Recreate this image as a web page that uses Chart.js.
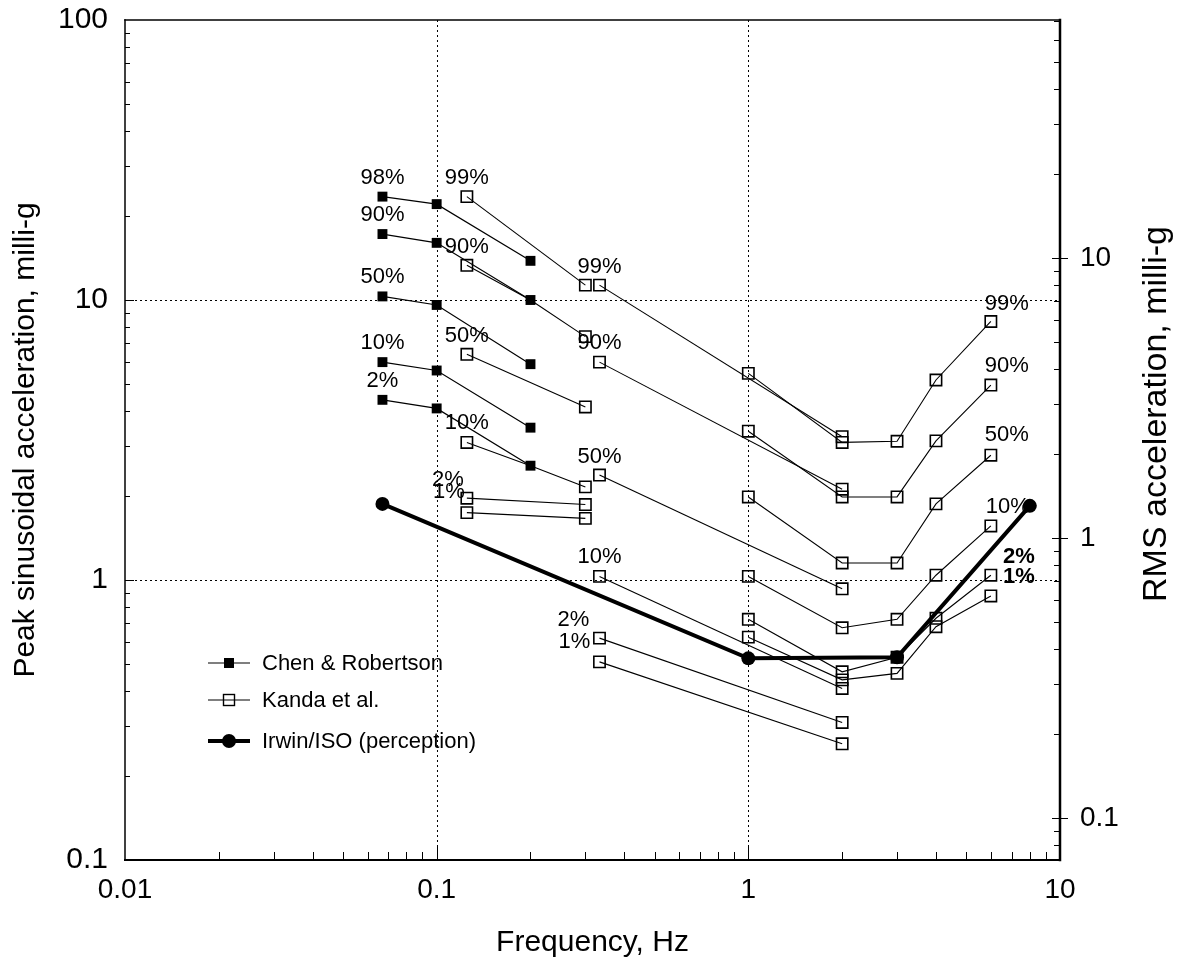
<!DOCTYPE html>
<html>
<head>
<meta charset="utf-8">
<title>Peak / RMS acceleration vs frequency</title>
<script src="https://cdn.jsdelivr.net/npm/chart.js@4.4.1/dist/chart.umd.min.js"></script>
<style>
  html, body { margin: 0; padding: 0; background: #fff; }
  #wrap { width: 1185px; height: 970px; }
</style>
</head>
<body>
<div id="wrap"><canvas id="chart" width="1185" height="970"></canvas></div>
<script>
// 周波数 (Hz)
const chenFreq = [0.067, 0.1, 0.2];
const kandaLowFreq = [0.125, 0.3];
const kandaLowFreq3 = [0.125, 0.2, 0.3];
const kandaMidFreq = [0.333, 2];
const kandaHighFreq = [1, 2, 3, 4, 6];
const irwinFreq = [0.067, 1, 3, 8];

// Chen & Robertson (peak, milli-g)
const chen98 = [23.4, 22.0, 13.8];
const chen90 = [17.2, 16.0, 10.0];
const chen50 = [10.3, 9.6, 5.9];
const chen10 = [6.0, 5.6, 3.5];
const chen2 = [4.4, 4.1, 2.56];
const chenLabels = ["98%", "90%", "50%", "10%", "2%"];

// Kanda et al. 0.125 - 0.3 Hz
const kandaLow99 = [23.4, 11.3];
const kandaLow90 = [13.3, 10.0, 7.4];
const kandaLow50 = [6.4, 4.15];
const kandaLow10 = [3.1, 2.56, 2.15];
const kandaLow2 = [1.96, 1.86];
const kandaLow1 = [1.74, 1.66];

// Kanda et al. 0.333 - 2 Hz
const kandaMid99 = [11.3, 3.25];
const kandaMid90 = [6.0, 2.11];
const kandaMid50 = [2.37, 0.93];
const kandaMid10 = [1.03, 0.41];
const kandaMid2 = [0.62, 0.31];
const kandaMid1 = [0.51, 0.26];

// Kanda et al. 1 - 6 Hz
const kandaHigh99 = [5.47, 3.10, 3.13, 5.18, 8.38];
const kandaHigh90 = [3.40, 1.98, 1.98, 3.14, 4.97];
const kandaHigh50 = [1.98, 1.15, 1.15, 1.87, 2.79];
const kandaHigh10 = [1.03, 0.675, 0.724, 1.04, 1.56];
const kandaHigh2 = [0.724, 0.47, 0.53, 0.73, 1.04];
const kandaHigh1 = [0.625, 0.44, 0.464, 0.681, 0.877];

const kandaLabels = ["99%", "90%", "50%", "10%", "2%", "1%"];

// Irwin/ISO (perception)
const irwinValues = [1.87, 0.525, 0.53, 1.84];

// 目盛り
const xTickLabels = ["0.01", "0.1", "1", "10"];
const yTickLabels = ["0.1", "1", "10", "100"];
const rmsTickLabels = ["0.1", "1", "10"];

const FONT = "'Liberation Sans', Arial, Helvetica, sans-serif";

function toPoints(freqs, values) {
  return freqs.map((f, i) => ({ x: f, y: values[i] }));
}

function isDecade(v) {
  const e = Math.log10(v);
  return Math.abs(e - Math.round(e)) < 1e-6;
}

// 系列の作成
function chenSet(values, label) {
  return {
    label: "Chen & Robertson",
    data: toPoints(chenFreq, values),
    borderColor: "#000",
    borderWidth: 1.2,
    backgroundColor: "#000",
    pointStyle: "rect",
    pointRadius: 7,
    pointBorderWidth: 0,
    pct: label,
    pctAt: "first",
    pctDx: 0,
    pctDy: -19,
  };
}

function kandaSet(freqs, values, label, at, dx, dy, radii) {
  return {
    label: "Kanda et al.",
    data: toPoints(freqs, values),
    borderColor: "#000",
    borderWidth: 1.1,
    backgroundColor: "rgba(0,0,0,0)",
    pointBorderColor: "#000",
    pointBackgroundColor: "rgba(0,0,0,0)",
    pointStyle: "rect",
    pointRadius: radii || 8,
    pointBorderWidth: 1.6,
    pct: label,
    pctAt: at,
    pctDx: dx,
    pctDy: dy,
  };
}

const datasets = [
  {
    label: "Irwin/ISO (perception)",
    data: toPoints(irwinFreq, irwinValues),
    borderColor: "#000",
    borderWidth: 4,
    backgroundColor: "#000",
    pointStyle: "circle",
    pointRadius: 7,
    pointBorderWidth: 0,
  },
  chenSet(chen98, chenLabels[0]),
  chenSet(chen90, chenLabels[1]),
  chenSet(chen50, chenLabels[2]),
  chenSet(chen10, chenLabels[3]),
  chenSet(chen2, chenLabels[4]),

  kandaSet(kandaLowFreq, kandaLow99, kandaLabels[0], "first", 0, -19),
  kandaSet(kandaLowFreq3, kandaLow90, kandaLabels[1], "first", 0, -18, [8, 0, 8]),
  kandaSet(kandaLowFreq, kandaLow50, kandaLabels[2], "first", 0, -18),
  kandaSet(kandaLowFreq3, kandaLow10, kandaLabels[3], "first", 0, -19, [8, 0, 8]),
  kandaSet(kandaLowFreq, kandaLow2, kandaLabels[4], "first", -19, -18),
  kandaSet(kandaLowFreq, kandaLow1, kandaLabels[5], "first", -18, -21),

  kandaSet(kandaMidFreq, kandaMid99, kandaLabels[0], "first", 0, -18),
  kandaSet(kandaMidFreq, kandaMid90, kandaLabels[1], "first", 0, -19),
  kandaSet(kandaMidFreq, kandaMid50, kandaLabels[2], "first", 0, -18),
  kandaSet(kandaMidFreq, kandaMid10, kandaLabels[3], "first", 0, -19),
  kandaSet(kandaMidFreq, kandaMid2, kandaLabels[4], "first", -26, -18),
  kandaSet(kandaMidFreq, kandaMid1, kandaLabels[5], "first", -25, -20),

  kandaSet(kandaHighFreq, kandaHigh99, kandaLabels[0], "last", 16, -18),
  kandaSet(kandaHighFreq, kandaHigh90, kandaLabels[1], "last", 16, -19),
  kandaSet(kandaHighFreq, kandaHigh50, kandaLabels[2], "last", 16, -20),
  kandaSet(kandaHighFreq, kandaHigh10, kandaLabels[3], "last", 17, -19),
  kandaSet(kandaHighFreq, kandaHigh2, kandaLabels[4], "last", 28, -18),
  kandaSet(kandaHighFreq, kandaHigh1, kandaLabels[5], "last", 28, -19),
];

// 枠線・補助目盛り・点線グリッド
const framePlugin = {
  id: "frame",
  beforeDatasetsDraw(chart) {
    const { ctx, chartArea: a, scales } = chart;
    const x = scales.x, y = scales.y, y2 = scales.y2;
    ctx.save();

    // dotted grid at decades
    ctx.strokeStyle = "#000";
    ctx.lineWidth = 1;
    ctx.setLineDash([2, 3]);
    [1, 10].forEach(v => {
      const py = Math.round(y.getPixelForValue(v)) + 0.5;
      ctx.beginPath(); ctx.moveTo(a.left, py); ctx.lineTo(a.right, py); ctx.stroke();
    });
    [0.1, 1].forEach(v => {
      const px = Math.round(x.getPixelForValue(v)) + 0.5;
      ctx.beginPath(); ctx.moveTo(px, a.top); ctx.lineTo(px, a.bottom); ctx.stroke();
    });
    ctx.setLineDash([]);

    // minor / major ticks
    ctx.lineWidth = 1;
    for (let d = -2; d <= 2; d++) {
      for (let m = 1; m <= 9; m++) {
        const v = m * Math.pow(10, d);
        if (v > y.min && v < y.max) {
          const py = Math.round(y.getPixelForValue(v)) + 0.5;
          const len = m === 1 ? 9 : 5;
          ctx.beginPath(); ctx.moveTo(a.left, py); ctx.lineTo(a.left + len, py); ctx.stroke();
        }
        if (v > y2.min && v < y2.max) {
          const py = Math.round(y2.getPixelForValue(v)) + 0.5;
          ctx.beginPath();
          if (m === 1) { ctx.moveTo(a.right - 8, py); ctx.lineTo(a.right + 8, py); }
          else { ctx.moveTo(a.right - 6, py); ctx.lineTo(a.right, py); }
          ctx.stroke();
        }
        if (v > x.min && v < x.max) {
          const px = Math.round(x.getPixelForValue(v)) + 0.5;
          const len = m === 1 ? 14 : 8;
          ctx.beginPath(); ctx.moveTo(px, a.bottom); ctx.lineTo(px, a.bottom - len); ctx.stroke();
        }
      }
    }

    // frame
    ctx.lineCap = "square";
    ctx.lineWidth = 1.5;
    ctx.beginPath(); ctx.moveTo(a.left, a.top); ctx.lineTo(a.right, a.top); ctx.stroke();
    ctx.beginPath(); ctx.moveTo(a.left, a.top); ctx.lineTo(a.left, a.bottom); ctx.stroke();
    ctx.lineWidth = 2;
    ctx.beginPath(); ctx.moveTo(a.left, a.bottom); ctx.lineTo(a.right, a.bottom); ctx.stroke();
    ctx.lineWidth = 2.5;
    ctx.beginPath(); ctx.moveTo(a.right, a.top); ctx.lineTo(a.right, a.bottom); ctx.stroke();
    ctx.restore();
  },
};

// パーセントラベル・凡例・右軸タイトル
const labelPlugin = {
  id: "labels",
  afterDatasetsDraw(chart) {
    const { ctx, chartArea: a } = chart;
    ctx.save();
    ctx.fillStyle = "#000";
    ctx.textAlign = "center";
    ctx.textBaseline = "middle";

    chart.data.datasets.forEach((ds, i) => {
      if (!ds.pct) return;
      const meta = chart.getDatasetMeta(i);
      const pt = ds.pctAt === "last" ? meta.data[meta.data.length - 1] : meta.data[0];
      const bold = ds.pctAt === "last" && ds.pctDx > 20;
      ctx.font = (bold ? "bold " : "") + "22px " + FONT;
      ctx.fillText(ds.pct, pt.x + ds.pctDx, pt.y + ds.pctDy);
    });

    // legend
    const rows = [
      { text: "Chen & Robertson", kind: "filledRect" },
      { text: "Kanda et al.", kind: "openRect" },
      { text: "Irwin/ISO (perception)", kind: "circle" },
    ];
    const lx = a.left + 83, rowY = [a.top + 643, a.top + 680, a.top + 721];
    ctx.textAlign = "left";
    ctx.font = "22px " + FONT;
    rows.forEach((r, i) => {
      const yy = rowY[i];
      ctx.strokeStyle = "#000";
      ctx.lineWidth = r.kind === "circle" ? 4 : 1.2;
      ctx.beginPath(); ctx.moveTo(lx, yy); ctx.lineTo(lx + 42, yy); ctx.stroke();
      const cx = lx + 21;
      if (r.kind === "filledRect") {
        ctx.fillRect(cx - 5, yy - 5, 10, 10);
      } else if (r.kind === "openRect") {
        ctx.lineWidth = 1.4;
        ctx.strokeRect(cx - 5.5, yy - 5.5, 11, 11);
      } else {
        ctx.beginPath(); ctx.arc(cx, yy, 7, 0, Math.PI * 2); ctx.fill();
      }
      ctx.fillText(r.text, lx + 54, yy + 1);
    });

    // right axis title (bottom-to-top)
    ctx.save();
    ctx.translate(a.right + 97, (a.top + a.bottom) / 2 - 26);
    ctx.rotate(-Math.PI / 2);
    ctx.textAlign = "center";
    ctx.font = "34px " + FONT;
    ctx.fillText("RMS acceleration, milli-g", 0, 0);
    ctx.restore();

    ctx.restore();
  },
};

function decadeTicks(labels) {
  return (scale) => {
    scale.ticks = scale.ticks.filter(t => isDecade(t.value) && labels.includes(String(+t.value.toPrecision(3))));
  };
}

// 軸の大きさを固定 (端のラベル分の余白は取らない)
function fixWidth(w) {
  return (s) => { s.width = w; s.paddingTop = 0; s.paddingBottom = 0; };
}

const chart = new Chart(document.getElementById("chart"), {
  type: "line",
  data: { datasets: datasets },
  options: {
    responsive: false,
    animation: false,
    layout: { padding: { top: 20, bottom: 0, left: 0, right: 0 } },
    plugins: {
      legend: { display: false },
      tooltip: { enabled: false },
    },
    elements: { line: { tension: 0 } },
    scales: {
      x: {
        type: "logarithmic",
        min: 0.01,
        max: 10,
        afterBuildTicks: decadeTicks(xTickLabels),
        afterFit: (s) => { s.height = 110; s.paddingLeft = 0; s.paddingRight = 0; },
        grid: { display: false, drawTicks: false },
        border: { display: false },
        ticks: {
          autoSkip: false,
          maxRotation: 0,
          padding: 13,
          color: "#000",
          font: { family: FONT, size: 28 },
          callback: (v) => String(+v.toPrecision(3)),
        },
        title: {
          display: true,
          text: "Frequency, Hz",
          color: "#000",
          font: { family: FONT, size: 30 },
          padding: { top: 0, bottom: 9 },
        },
      },
      y: {
        type: "logarithmic",
        position: "left",
        min: 0.1,
        max: 100,
        afterBuildTicks: decadeTicks(yTickLabels),
        afterFit: fixWidth(125),
        grid: { display: false, drawTicks: false },
        border: { display: false },
        ticks: {
          autoSkip: false,
          padding: 17,
          color: "#000",
          font: { family: FONT, size: 30 },
          callback: (v) => String(+v.toPrecision(3)),
        },
        title: {
          display: true,
          text: "Peak sinusoidal acceleration, milli-g",
          color: "#000",
          font: { family: FONT, size: 30 },
          padding: { top: 8, bottom: 0 },
        },
      },
      y2: {
        type: "logarithmic",
        position: "right",
        min: 0.1 / Math.SQRT2,
        max: 100 / Math.SQRT2,
        afterBuildTicks: decadeTicks(rmsTickLabels),
        afterFit: fixWidth(125),
        grid: { display: false, drawTicks: false },
        border: { display: false },
        ticks: {
          autoSkip: false,
          padding: 20,
          color: "#000",
          font: { family: FONT, size: 28 },
          callback: (v) => String(+v.toPrecision(3)),
        },
      },
    },
  },
  plugins: [framePlugin, labelPlugin],
});
</script>
</body>
</html>
